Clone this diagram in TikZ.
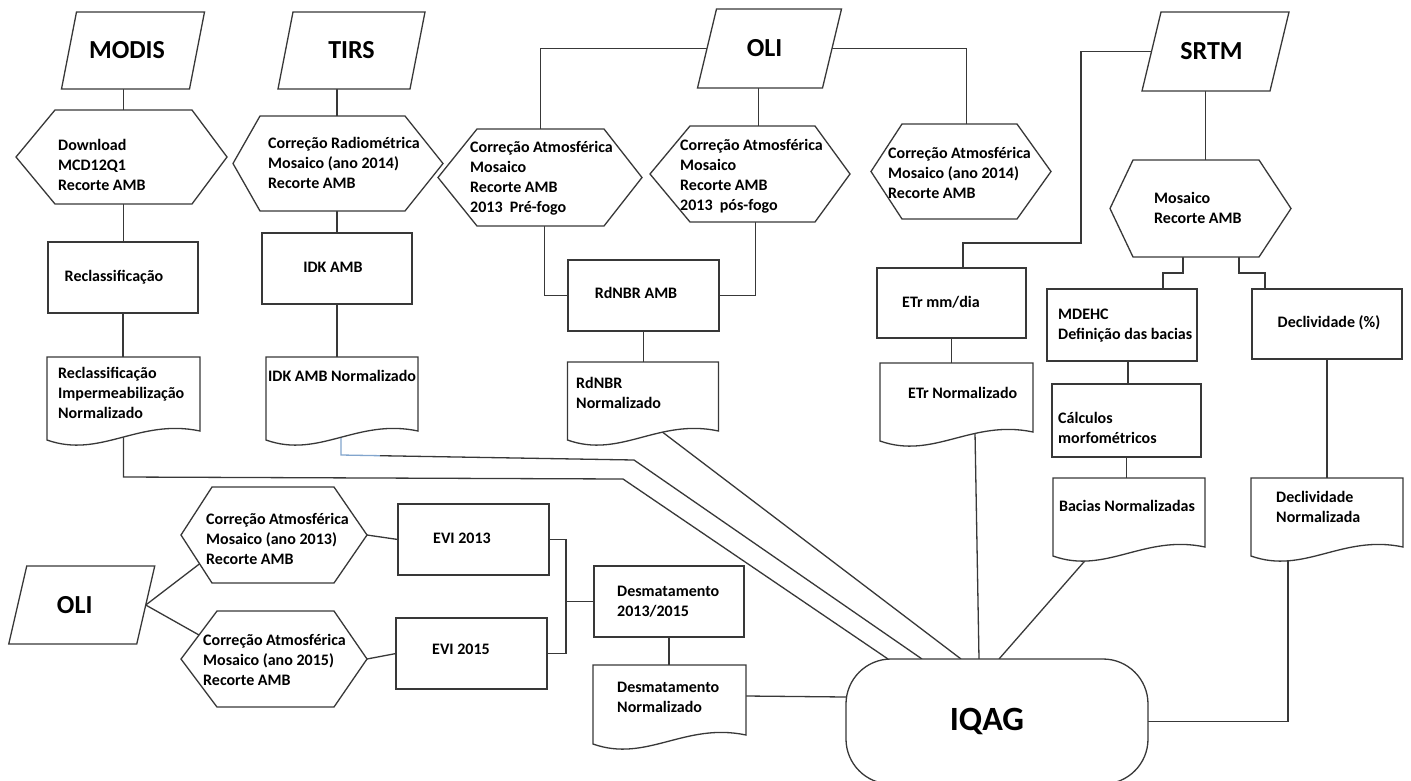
\documentclass[tikz,border=0pt]{standalone}
\usepackage{fontspec}
\setmainfont{Carlito}
\usetikzlibrary{calc}
\pgfdeclarelayer{paper}
\pgfdeclarelayer{wires}
\pgfsetlayers{paper,wires,main}

\newcommand\dgbody{\fontsize{16}{20}\selectfont\bfseries}
\newcommand\dgtitle{\fontsize{26}{30}\selectfont\bfseries}
\newcommand\dgiq{\fontsize{34}{40}\selectfont\bfseries}

\definecolor{paleblue}{RGB}{130,165,205}

\tikzset{
  ln/.style={draw=black!78, line width=1.3pt},
  sz/.style 2 args={minimum width=#1pt, minimum height=#2pt},
  core/.style={inner sep=0pt, outer sep=0pt, draw=none},
  box/.style={core, ln, fill=white},
  txt/.style={inner sep=0pt, font=\dgbody, align=left},
  ttl/.style={inner sep=0pt, font=\dgtitle},
}

% outline of a hexagon around a node: name, left inset, right inset
\newcommand\hexout[3]{\draw[ln,fill=white] (#1.north west) -- (#1.north east)
  -- ([xshift=#3pt]#1.east) -- (#1.south east) -- (#1.south west)
  -- ([xshift=-#2pt]#1.west) -- cycle;}
% outline of a slanted data block: name, half slant
\newcommand\parout[2]{\draw[ln,fill=white] ([xshift=-#2pt]#1.south west)
  -- ([xshift=-#2pt]#1.south east) -- ([xshift=#2pt]#1.north east)
  -- ([xshift=#2pt]#1.north west) -- cycle;}
% outline of a document sheet with a wavy lower edge
\newcommand\docout[1]{\draw[ln,fill=white] (#1.north west) -- (#1.north east)
  -- (#1.south east)
  .. controls ($(#1.south west)!0.6!(#1.south east)+(0,-13)$)
  and ($(#1.south west)!0.35!(#1.south east)+(0,28)$)
  .. ($(#1.south west)+(0,9)$) -- cycle;}

\begin{document}
\begin{tikzpicture}[x=1pt,y=-1pt]
\useasboundingbox (0,0) rectangle (1411,780);
\begin{pgfonlayer}{paper}
  \fill[white] (0,0) rectangle (1411,780);
\end{pgfonlayer}
\clip (0,0) rectangle (1411,780);

% ---------- MODIS column ----------
\node[core, sz={128}{77}] (modis) at (133,50.5) {};
\parout{modis}{7.5}
\node[ttl] (modis-t) at ([xshift=-6pt]modis) {MODIS};

\node[core, sz={137}{94}] (hexm) at (123.5,157) {};
\hexout{hexm}{39}{35}
\node[txt, anchor=west] (hexm-t) at (58,165) {Download\\MCD12Q1\\Recorte AMB};

\node[box, sz={150}{71}] (reclass) at (123,277.5) {};
\node[txt] (reclass-t) at (114,277) {Reclassificação};

\node[core, sz={153}{74}] (reclassdoc) at (123.5,394) {};
\docout{reclassdoc}
\node[txt, anchor=west] (reclassdoc-t) at (58,393) {Reclassificação\\Impermeabilização\\Normalizado};

% ---------- TIRS column ----------
\node[core, sz={132}{77}] (tirs) at (351.5,50.5) {};
\parout{tirs}{7.5}
\node[ttl] (tirs-t) at (tirs) {TIRS};

\node[core, sz={145}{95}] (hext) at (332.5,163.5) {};
\hexout{hext}{27}{38}
\node[txt, anchor=west] (hext-t) at (268,163) {Correção Radiométrica\\Mosaico (ano 2014)\\Recorte AMB};

\node[box, sz={150}{71}] (idk) at (337,268.5) {};
\node[txt] (idk-t) at (333,267) {IDK AMB};

\node[core, sz={152}{74}] (idkdoc) at (342,394) {};
\docout{idkdoc}
\node[txt, anchor=west] (idkdoc-t) at (268,376) {IDK AMB Normalizado};

% ---------- OLI (burn) column ----------
\node[core, sz={125}{79}] (olit) at (769.5,48.5) {};
\parout{olit}{9.5}
\node[ttl] (olit-t) at ([xshift=-5pt]olit) {OLI};

\node[core, sz={127}{97}] (hexpre) at (540.5,177.5) {};
\hexout{hexpre}{39}{38}
\node[txt, anchor=west] (hexpre-t) at (470,178) {Correção Atmosférica\\Mosaico\\Recorte AMB\\2013~~Pré-fogo};

\node[core, sz={125}{96}] (hexpos) at (752.5,174) {};
\hexout{hexpos}{40}{35}
\node[txt, anchor=west] (hexpos-t) at (680,176.5) {Correção Atmosférica\\Mosaico\\Recorte AMB\\2013~~pós-fogo};

\node[core, sz={115}{95}] (hex14) at (959.5,171.5) {};
\hexout{hex14}{31}{34}
\node[txt, anchor=west] (hex14-t) at (888,173) {Correção Atmosférica\\Mosaico (ano 2014)\\Recorte AMB};

\node[box, sz={151}{71}] (rdnbr) at (643.5,295.5) {};
\node[txt] (rdnbr-t) at (636,293) {RdNBR AMB};

\node[core, sz={151}{69}] (rdnbrdoc) at (643,396.5) {};
\docout{rdnbrdoc}
\node[txt, anchor=west] (rdnbrdoc-t) at (576,393) {RdNBR\\Normalizado};

% ---------- evapotranspiration ----------
\node[box, sz={149}{70}] (etr) at (951.5,303) {};
\node[txt] (etr-t) at (941,302) {ETr mm/dia};

\node[core, sz={153}{69}] (etrdoc) at (956.5,397.5) {};
\docout{etrdoc}
\node[txt, anchor=west] (etrdoc-t) at (908,393) {ETr Normalizado};

% ---------- SRTM column ----------
\node[core, sz={128}{79}] (srtm) at (1215.5,51.5) {};
\parout{srtm}{9.5}
\node[ttl] (srtm-t) at ([xshift=-4pt]srtm) {SRTM};

\node[core, sz={126}{97}] (hexs) at (1196,208.5) {};
\hexout{hexs}{23}{32}
\node[txt, anchor=west] (hexs-t) at (1154,208) {Mosaico\\Recorte AMB};

\node[box, sz={150}{72}] (mdehc) at (1122,325) {};
\node[txt, anchor=west] (mdehc-t) at (1058,325.5) {MDEHC\\Definição das bacias};

\node[box, sz={149}{73}] (calc) at (1126.5,420.5) {};
\node[txt, anchor=west] (calc-t) at (1058,427.5) {Cálculos\\morfométricos};

\node[core, sz={152}{69}] (baciasdoc) at (1129,512.5) {};
\docout{baciasdoc}
\node[txt] (baciasdoc-t) at (1127,506) {Bacias Normalizadas};

\node[box, sz={150}{70}] (decliv) at (1327,324) {};
\node[txt] (decliv-t) at (1329,323) {Declividade (\%)};

\node[core, sz={152}{69}] (declivdoc) at (1327,512.5) {};
\docout{declivdoc}
\node[txt, anchor=west] (declivdoc-t) at (1276,507) {Declividade\\Normalizada};

% ---------- deforestation branch ----------
\node[core, sz={128}{78}] (olib) at (81.75,605) {};
\parout{olib}{9}
\node[ttl] (olib-t) at ([xshift=-7pt]olib) {OLI};

\node[core, sz={122}{96}] (hex13) at (273,535) {};
\hexout{hex13}{31}{33}
\node[txt, anchor=west] (hex13-t) at (206,539) {Correção Atmosférica\\Mosaico (ano 2013)\\Recorte AMB};

\node[core, sz={117}{96}] (hex15) at (275.5,659) {};
\hexout{hex15}{36}{33}
\node[txt, anchor=west] (hex15-t) at (203,660) {Correção Atmosférica\\Mosaico (ano 2015)\\Recorte AMB};

\node[box, sz={151}{71}] (evi13) at (473.5,539.5) {};
\node[txt] (evi13-t) at (462,538) {EVI 2013};

\node[box, sz={151}{71}] (evi15) at (471.5,653.5) {};
\node[txt] (evi15-t) at (461,649) {EVI 2015};

\node[box, sz={150}{71}] (desm) at (669,601.5) {};
\node[txt, anchor=west] (desm-t) at (617,601.5) {Desmatamento\\2013/2015};

\node[core, sz={153}{70}] (desmdoc) at (669.5,700) {};
\docout{desmdoc}
\node[txt, anchor=west] (desmdoc-t) at (617,697) {Desmatamento\\Normalizado};

% ---------- final index ----------
\node[core, ln, fill=white, rounded corners=45pt, sz={302}{125}] (iqag) at (997,721.5) {};
\node[inner sep=0pt, font=\dgiq] (iqag-t) at ([xshift=-10pt]iqag) {IQAG};

\coordinate (jn) at (566,601.5);

% ---------- connectors ----------
\begin{pgfonlayer}{wires}
  % MODIS
  \draw[ln] (hexm.north |- modis.south) -- (hexm.north);
  \draw[ln] (hexm.south) -- (hexm.south |- reclass.north);
  \draw[ln] (reclass.south) -- (reclass.south |- reclassdoc.north);
  \draw[ln] (reclassdoc.south) -- (123.5,477) -- (623,479) -- ([xshift=42pt]iqag.north west);
  % TIRS
  \draw[ln] ([xshift=4.5pt]hext.north |- tirs.south) -- ([xshift=4.5pt]hext.north);
  \draw[ln] (idk.north |- hext.south) -- (idk.north);
  \draw[ln] (idk.south) -- (idk.south |- idkdoc.north);
  \draw[ln, draw=paleblue] ([xshift=-1pt]idkdoc.south) -- (341,455) -- (380,455.7);
  \draw[ln] (380,455.7) -- (634,460) -- ([xshift=76pt]iqag.north west);
  % OLI (burn)
  \draw[ln] (olit.west) -| (hexpre.north);
  \draw[ln] (olit.east) -| ([xshift=7pt]hex14.north);
  \draw[ln] ([xshift=6pt]hexpos.north |- olit.south) -- ([xshift=6pt]hexpos.north);
  \draw[ln] ([xshift=4pt]hexpre.south) |- (rdnbr.west);
  \draw[ln] ([xshift=3pt]hexpos.south) |- (rdnbr.east);
  \draw[ln] (rdnbr.south) -- (rdnbr.south |- rdnbrdoc.north);
  \draw[ln] ([xshift=18pt]rdnbrdoc.south) -- ([xshift=115pt]iqag.north west);
  % SRTM and evapotranspiration
  \draw[ln] (srtm.west) -| (1081,243) -| ([xshift=11.5pt]etr.north);
  \draw[ln] (etr.south) -- (etr.south |- etrdoc.north);
  \draw[ln] ([xshift=18.5pt]etrdoc.south) -- ([xshift=133pt]iqag.north west);
  \draw[ln] ([xshift=9.5pt]hexs.north |- srtm.south) -- ([xshift=9.5pt]hexs.north);
  \draw[ln] ([xshift=-13pt]hexs.south) -- ++(0,16) -| ([xshift=41pt]mdehc.north);
  \draw[ln] ([xshift=43pt]hexs.south) -- ++(0,16) -| ([xshift=-62pt]decliv.north);
  \draw[ln] ([xshift=6pt]mdehc.south) -- ([xshift=6pt]mdehc.south |- calc.north);
  \draw[ln] (calc.south) -- (calc.south |- baciasdoc.north);
  \draw[ln] ([xshift=-32pt]baciasdoc.south) -- ([xshift=153pt]iqag.north west);
  \draw[ln] (decliv.south) -- (declivdoc.north);
  \draw[ln] ([xshift=-39pt]declivdoc.south) |- (iqag.east);
  % deforestation
  \draw[ln] (olib.east) -- ($(hex13.south west)!0.4!([xshift=-31pt]hex13.west)$);
  \draw[ln] (olib.east) -- ($(hex15.north west)!0.5!([xshift=-36pt]hex15.west)$);
  \draw[ln] ([xshift=33pt]hex13.east) -- (evi13.west);
  \draw[ln] ([xshift=33pt]hex15.east) -- (evi15.west);
  \draw[ln] (evi13.east) -| (jn) |- (evi15.east);
  \draw[ln] (jn) -- (desm.west);
  \draw[ln] (desm.south) -- (desm.south |- desmdoc.north);
  \draw[ln] ([yshift=4pt]desmdoc.east) -- (iqag.west |- 0,697);
\end{pgfonlayer}
\end{tikzpicture}
\end{document}
